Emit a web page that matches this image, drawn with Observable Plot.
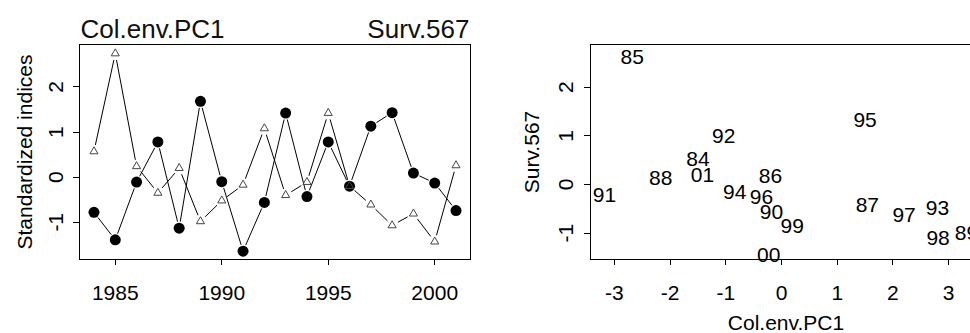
<!DOCTYPE html>
<html><head><meta charset="utf-8">
<script src="https://cdn.jsdelivr.net/npm/d3@7"></script>
<script src="https://cdn.jsdelivr.net/npm/@observablehq/plot@0.6"></script>
<style>
html,body{margin:0;padding:0;background:#fff;overflow:hidden;}
#wrap{position:relative;width:970px;height:333px;overflow:hidden;background:#fff;}
#left{position:absolute;top:0;left:0;width:480px;height:333px;}
#right{position:absolute;top:0;left:480px;width:511px;height:333px;}
</style></head>
<body><div id="wrap"><div id="left"></div><div id="right"></div></div>
<script>
// ---- data ----
const years = [1984,1985,1986,1987,1988,1989,1990,1991,1992,1993,1994,1995,1996,1997,1998,1999,2000,2001];
const colEnvPC1Std = [-0.78,-1.39,-0.11,0.78,-1.13,1.68,-0.10,-1.64,-0.56,1.42,-0.43,0.78,-0.20,1.13,1.43,0.09,-0.13,-0.74];
const surv567Std   = [0.57,2.74,0.24,-0.35,0.20,-0.98,-0.52,-0.17,1.08,-0.40,-0.11,1.42,-0.20,-0.61,-1.07,-0.81,-1.43,0.26];
const yearLabels = ["84","85","86","87","88","89","90","91","92","93","94","95","96","97","98","99","00","01"];
const colEnvPC1 = [-1.50,-2.68,-0.20,1.54,-2.17,3.32,-0.18,-3.18,-1.04,2.80,-0.84,1.50,-0.36,2.20,2.81,0.19,-0.23,-1.42];
const surv567   = [0.51,2.61,0.16,-0.42,0.13,-1.01,-0.57,-0.23,1.00,-0.48,-0.16,1.32,-0.26,-0.64,-1.11,-0.85,-1.46,0.18];
const yearTicks = [1985,1990,1995,2000];
const stdTicks = [-1,0,1,2];
const pcTicks = [-3,-2,-1,0,1,2,3];
const survTicks = [-1,0,1,2];
const leftTitle = "Col.env.PC1";
const rightTitle = "Surv.567";
const leftYLabel = "Standardized indices";
const scatterXLabel = "Col.env.PC1";
const scatterYLabel = "Surv.567";

// ---- derived tables ----
const series = years.map((y,i)=>({year:y, col:colEnvPC1Std[i], surv:surv567Std[i]}));
const segs = key => series.slice(1).map((d,i)=>({x1:series[i].year, y1:series[i][key], x2:d.year, y2:d[key]}));
const scatter = yearLabels.map((l,i)=>({label:l, x:colEnvPC1[i], y:surv567[i]}));
const fmt = d => String(d);
const FONT = "'Liberation Sans', Arial, Helvetica, sans-serif";
const baseStyle = {fontFamily: FONT, fontSize: "21px", color: "#000", background: "#fff", maxWidth: "none", overflow: "visible"};

const left = Plot.plot({
  width: 480, height: 333,
  marginLeft: 79, marginRight: 10, marginTop: 44, marginBottom: 74,
  x: {domain: [1983.32, 2001.68]},
  y: {domain: [-1.825, 2.94]},
  style: baseStyle,
  marks: [
    Plot.axisX({ticks: yearTicks, tickSize: 6, tickFormat: () => "", label: null, stroke: "#000", shapeRendering: "crispEdges"}),
    Plot.axisY({ticks: stdTicks, tickSize: 6, tickFormat: () => "", label: null, stroke: "#000", shapeRendering: "crispEdges"}),
    Plot.text(yearTicks, {x: d => d, text: fmt, frameAnchor: "bottom", dy: 34, lineAnchor: "middle", fontSize: 21, fill: "#000"}),
    Plot.text(stdTicks, {y: d => d, text: fmt, frameAnchor: "left", dx: -23, rotate: -90, lineAnchor: "middle", textAnchor: "middle", fontSize: 21, fill: "#000"}),
    Plot.text([leftYLabel], {text: d => d, frameAnchor: "left", dx: -54, rotate: -90, lineAnchor: "middle", textAnchor: "middle", fontSize: 21, fill: "#000"}),
    Plot.text([leftTitle], {text: d => d, frameAnchor: "top-left", dx: 1, dy: -7, textAnchor: "start", lineAnchor: "bottom", fontSize: 26, fill: "#111"}),
    Plot.text([rightTitle], {text: d => d, frameAnchor: "top-right", dx: -1, dy: -7, textAnchor: "end", lineAnchor: "bottom", fontSize: 26, fill: "#111"}),
    Plot.arrow(segs("col"), {x1: "x1", y1: "y1", x2: "x2", y2: "y2", headLength: 0, inset: 7, bend: 0, stroke: "#000", strokeWidth: 1}),
    Plot.arrow(segs("surv"), {x1: "x1", y1: "y1", x2: "x2", y2: "y2", headLength: 0, inset: 7, bend: 0, stroke: "#000", strokeWidth: 1}),
    Plot.dot(series, {x: "year", y: "col", r: 5.5, fill: "#000", stroke: "none"}),
    Plot.dot(series, {x: "year", y: "surv", r: 3, symbol: "triangle", fill: "none", stroke: "#444", strokeWidth: 1}),
    Plot.frame({stroke: "#000", strokeWidth: 1, shapeRendering: "crispEdges"})
  ]
});
document.getElementById("left").appendChild(left);

const right = Plot.plot({
  width: 511, height: 333,
  marginLeft: 110, marginRight: 10, marginTop: 44, marginBottom: 74,
  x: {domain: [-3.43, 3.59]},
  y: {domain: [-1.54, 2.875]},
  style: baseStyle,
  marks: [
    Plot.axisX({ticks: pcTicks, tickSize: 6, tickFormat: () => "", label: null, stroke: "#000", shapeRendering: "crispEdges"}),
    Plot.axisY({ticks: survTicks, tickSize: 6, tickFormat: () => "", label: null, stroke: "#000", shapeRendering: "crispEdges"}),
    Plot.text(pcTicks, {x: d => d, text: fmt, frameAnchor: "bottom", dy: 34, lineAnchor: "middle", fontSize: 21, fill: "#000"}),
    Plot.text(survTicks, {y: d => d, text: fmt, frameAnchor: "left", dx: -24, rotate: -90, lineAnchor: "middle", textAnchor: "middle", fontSize: 21, fill: "#000"}),
    Plot.text([scatterYLabel], {text: d => d, frameAnchor: "left", dx: -58, rotate: -90, lineAnchor: "middle", textAnchor: "middle", fontSize: 21, fill: "#000"}),
    Plot.text([scatterXLabel], {text: d => d, frameAnchor: "bottom", dy: 64, lineAnchor: "middle", fontSize: 21, fill: "#000"}),
    Plot.text(scatter, {x: "x", y: "y", text: "label", fontSize: 21, fill: "#000"}),
    Plot.frame({stroke: "#000", strokeWidth: 1, shapeRendering: "crispEdges"})
  ]
});
document.getElementById("right").appendChild(right);
</script>
</body></html>
